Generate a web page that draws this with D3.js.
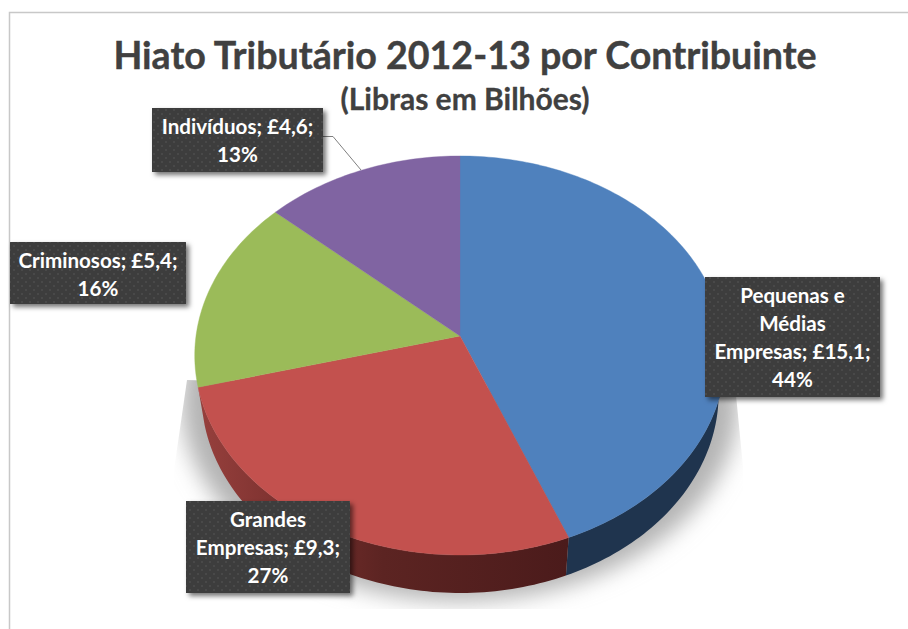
<!DOCTYPE html>
<html>
<head>
<meta charset="utf-8">
<style>
  html, body { margin: 0; background: #fff; }
  svg { display: block; font-family: Lato, sans-serif; font-weight: 700; }
</style>
<script src="https://cdn.jsdelivr.net/npm/d3@7"></script>
</head>
<body>
<div id="chart"></div>
<script>
const categories = ['Pequenas e Médias Empresas', 'Grandes Empresas', 'Criminosos', 'Indivíduos'];
const values = [15.1, 9.3, 5.4, 4.6];
const colors = ['#4f81bd', '#c3514e', '#9bbb59', '#8064a2'];
const labelLines = [
  ['Pequenas e', 'Médias', 'Empresas; £15,1;', '44%'],
  ['Grandes', 'Empresas; £9,3;', '27%'],
  ['Criminosos; £5,4;', '16%'],
  ['Indivíduos; £4,6;', '13%']
];
const titleText = 'Hiato Tributário 2012-13 por Contribuinte';
const subtitleText = '(Libras em Bilhões)';

const width = 908;
const height = 629;
const cx = 460;
const cy = 336;
const rx = 264;
const ry = 197.6;
const persp = 0.0977; // top face is drawn in perspective, the near edge is bigger
const depth = 38;

const labelBoxes = [
  { x: 705, y: 277, w: 175, h: 120, base: 303 },
  { x: 186, y: 501, w: 164, h: 92, base: 527 },
  { x: 10, y: 242, w: 176, h: 62, base: 268 },
  { x: 152, y: 108, w: 171, h: 64, base: 134 }
];

const svg = d3.select('#chart').append('svg')
  .attr('width', width)
  .attr('height', height);

const defs = svg.append('defs');

defs.append('filter').attr('id', 'blur')
  .attr('x', '-10%').attr('y', '-10%').attr('width', '120%').attr('height', '120%')
  .append('feGaussianBlur').attr('stdDeviation', 11);

const boxShadow = defs.append('filter').attr('id', 'boxShadow')
  .attr('x', '-10%').attr('y', '-15%').attr('width', '125%').attr('height', '135%');
boxShadow.append('feDropShadow')
  .attr('dx', 3).attr('dy', 3).attr('stdDeviation', 2.5)
  .attr('flood-color', '#000').attr('flood-opacity', 0.55);

const dots = defs.append('pattern').attr('id', 'dots')
  .attr('width', 8).attr('height', 8).attr('patternUnits', 'userSpaceOnUse');
dots.append('rect').attr('width', 8).attr('height', 8).attr('fill', '#3e3e3e');
dots.append('circle').attr('cx', 2).attr('cy', 2).attr('r', 1.1).attr('fill', '#4a4a4a');
dots.append('circle').attr('cx', 6).attr('cy', 6).attr('r', 1.1).attr('fill', '#4a4a4a');

const redWall = defs.append('linearGradient').attr('id', 'redWall')
  .attr('gradientUnits', 'userSpaceOnUse')
  .attr('x1', 198).attr('x2', 568).attr('y1', 0).attr('y2', 0);
redWall.append('stop').attr('offset', '0').attr('stop-color', '#97403d');
redWall.append('stop').attr('offset', '0.25').attr('stop-color', '#7a302e');
redWall.append('stop').attr('offset', '0.5').attr('stop-color', '#5c2422');
redWall.append('stop').attr('offset', '1').attr('stop-color', '#4b1b1b');

defs.append('clipPath').attr('id', 'shadowClip')
  .append('path')
  .attr('d', 'M187,380 L174,470 L174,609 L743,609 L743,467 L736,395 Z');

const pie = d3.pie().sort(null).value((d) => d);
const arcs = pie(values);

// angle is clockwise from 12 o'clock, like d3.pie
const project = (a, dy = 0, sx = 1) => {
  const u = Math.sin(a);
  const v = -Math.cos(a);
  const k = 1 - persp * v;
  return [cx + sx * rx * u / k, cy + ry * v / k + dy];
};

const sample = (a0, a1) => {
  const n = Math.max(2, Math.ceil((a1 - a0) / 0.02));
  return d3.range(n + 1).map((i) => a0 + (a1 - a0) * i / n);
};

const line = d3.line();

// ground shadow
svg.append('g')
  .attr('clip-path', 'url(#shadowClip)')
  .append('path')
  .attr('d', line(sample(0, 2 * Math.PI).map((a) => project(a, 46, 1.05))) + 'Z')
  .attr('fill', '#b4b4b4')
  .attr('filter', 'url(#blur)');

// chart frame
svg.append('path')
  .attr('d', `M9.5,${height} V12.5 H${width}`)
  .attr('fill', 'none')
  .attr('stroke', '#c8c8c8')
  .attr('stroke-width', 1.5);

// side wall, only the part of the rim that faces the viewer
const wallFill = ['#1f344e', 'url(#redWall)'];
arcs.slice(0, 2).forEach((d, i) => {
  const a0 = Math.max(d.startAngle, Math.PI / 2 - 0.05);
  const a1 = Math.min(d.endAngle, 3 * Math.PI / 2 + 0.05);
  const angles = sample(a0, a1);
  const pts = angles.map((a) => project(a)).concat(angles.slice().reverse().map((a) => project(a, depth, 0.975)));
  svg.append('path')
    .attr('d', line(pts) + 'Z')
    .attr('fill', wallFill[i]);
});

// top face
svg.append('g').selectAll('path')
  .data(arcs)
  .join('path')
  .attr('d', (d) => line([[cx, cy]].concat(sample(d.startAngle, d.endAngle).map((a) => project(a)))) + 'Z')
  .attr('fill', (d, i) => colors[i])
  .attr('stroke', (d, i) => colors[i])
  .attr('stroke-width', 0.4)
  .append('title')
  .text((d, i) => categories[i]);

// leader line of the Indivíduos label
svg.append('path')
  .attr('d', 'M323,136.5 H333 L361,170')
  .attr('fill', 'none')
  .attr('stroke', '#7f7f7f')
  .attr('stroke-width', 1);

// titles
svg.append('text')
  .attr('x', 465).attr('y', 69)
  .attr('text-anchor', 'middle')
  .attr('font-size', 37.6)
  .attr('fill', '#404040')
  .attr('stroke', '#404040')
  .attr('stroke-width', 0.4)
  .text(titleText);

svg.append('text')
  .attr('x', 465).attr('y', 110)
  .attr('text-anchor', 'middle')
  .attr('font-size', 30)
  .attr('fill', '#404040')
  .attr('stroke', '#404040')
  .attr('stroke-width', 0.3)
  .text(subtitleText);

// data labels
const labels = svg.append('g').selectAll('g')
  .data(labelBoxes)
  .join('g');

labels.append('rect')
  .attr('x', (d) => d.x).attr('y', (d) => d.y)
  .attr('width', (d) => d.w).attr('height', (d) => d.h)
  .attr('fill', 'url(#dots)')
  .attr('filter', 'url(#boxShadow)');

labels.each(function (d, i) {
  d3.select(this).selectAll('text')
    .data(labelLines[i])
    .join('text')
    .attr('x', d.x + d.w / 2)
    .attr('y', (t, j) => d.base + j * 28)
    .attr('text-anchor', 'middle')
    .attr('font-size', 20.6)
    .attr('fill', '#fff')
    .text((t) => t);
});
</script>
</body>
</html>
